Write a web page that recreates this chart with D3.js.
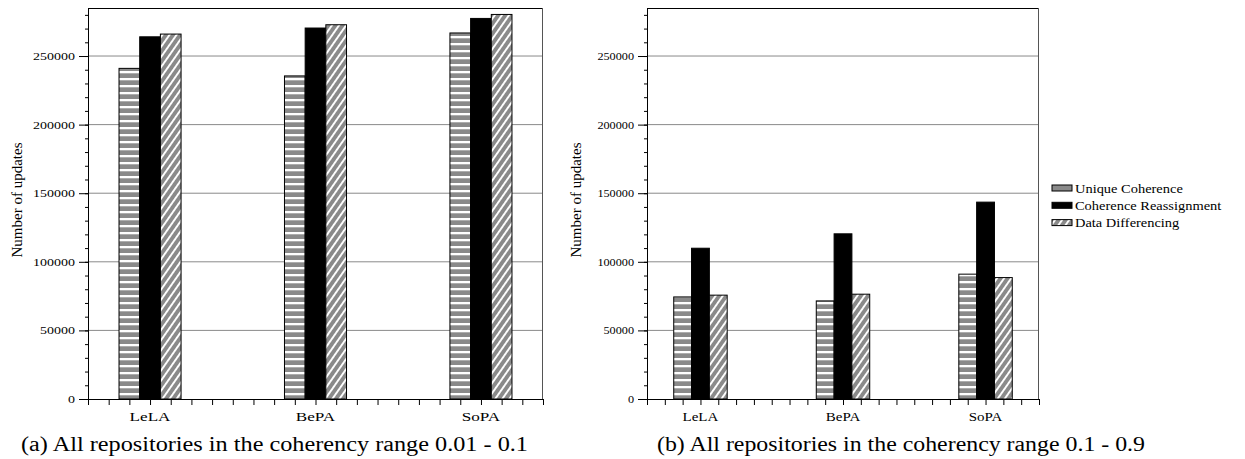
<!DOCTYPE html>
<html>
<head>
<meta charset="utf-8">
<script src="https://cdn.jsdelivr.net/npm/d3@7"></script>
<style>
  body { margin: 0; background: #fff; }
  svg text { font-family: "Liberation Serif", Times, serif !important; fill: #000; }
</style>
</head>
<body>
<div id="chart"></div>
<script>
// data
var categories = ["LeLA", "BePA", "SoPA"];
var seriesNames = ["Unique Coherence", "Coherence Reassignment", "Data Differencing"];
var uniqueA   = [241000, 235500, 266800];
var reassignA = [264000, 270400, 277400];
var diffA     = [266000, 272800, 280300];
var uniqueB   = [74400, 71500, 91000];
var reassignB = [109900, 120400, 143500];
var diffB     = [75700, 76400, 88500];
var yTicks = [0, 50000, 100000, 150000, 200000, 250000];
var yLabel = "Number of updates";
var captionA = "(a) All repositories in the coherency range 0.01 - 0.1";
var captionB = "(b) All repositories in the coherency range 0.1 - 0.9";

var serif = "'Liberation Serif', Times, serif";

var svg = d3.select("#chart").append("svg")
    .attr("width", 1245)
    .attr("height", 459)
    .attr("font-family", serif);

var defs = svg.append("defs");

// horizontal stripes
var hs = defs.append("pattern")
    .attr("id", "hstripe")
    .attr("patternUnits", "userSpaceOnUse")
    .attr("width", 7).attr("height", 7);
hs.append("rect").attr("width", 7).attr("height", 7).attr("fill", "#fff");
hs.append("rect").attr("y", 2.3).attr("width", 7).attr("height", 4.7).attr("fill", "#8a8a8a");

// diagonal stripes
var dg = defs.append("pattern")
    .attr("id", "diag")
    .attr("patternUnits", "userSpaceOnUse")
    .attr("width", 5.8).attr("height", 10)
    .attr("patternTransform", "rotate(35)");
dg.append("rect").attr("width", 5.8).attr("height", 10).attr("fill", "#8a8a8a");
dg.append("rect").attr("width", 1.9).attr("height", 10).attr("fill", "#fff");

var fills = ["url(#hstripe)", "#000", "url(#diag)"];

// stretch text horizontally, the figure was scaled unevenly
function stretch(sel, sx) {
  sel.each(function() {
    var w = this.getComputedTextLength();
    d3.select(this)
      .attr("textLength", w * sx)
      .attr("lengthAdjust", "spacingAndGlyphs");
  });
}

function drawPanel(left, right, sx, values) {
  var top = 8, bottom = 399;
  var w = right - left, h = bottom - top;

  var g = svg.append("g").attr("transform", "translate(" + left + "," + top + ")");

  var x = d3.scaleLinear().domain([0, 22]).range([0, w]);
  var slot = d3.scalePoint().domain(categories).range([3, 19]);
  var y = d3.scaleLinear().domain([0, 285000]).range([h, 0]);

  // grid
  g.selectAll(".grid")
    .data(yTicks.slice(1))
    .enter().append("line")
      .attr("x1", 0).attr("x2", w)
      .attr("y1", d => y(d)).attr("y2", d => y(d))
      .attr("stroke", "#8a8a8a").attr("stroke-width", 1);

  // frame
  g.append("line").attr("x1", 0).attr("x2", w).attr("y1", 0.5).attr("y2", 0.5)
    .attr("stroke", "#000");
  g.append("line").attr("x1", w - 0.5).attr("x2", w - 0.5).attr("y1", 0).attr("y2", h)
    .attr("stroke", "#555");

  // bars
  var rows = [];
  categories.forEach(function(c, i) {
    values.forEach(function(s, j) {
      rows.push({cat: c, series: j, value: s[i]});
    });
  });
  g.selectAll(".bar")
    .data(rows)
    .enter().append("rect")
      .attr("x", d => x(slot(d.cat) - 1.5 + d.series))
      .attr("width", d => x(1) - x(0))
      .attr("y", d => y(d.value))
      .attr("height", d => h - y(d.value))
      .attr("fill", d => fills[d.series])
      .attr("stroke", "#000")
      .attr("stroke-width", 1);

  // y axis: minor ticks then major ticks
  var minor = d3.range(0, 285001, 10000);
  g.append("g")
    .call(d3.axisLeft(y).tickValues(minor).tickSize(3).tickFormat(""))
    .call(a => a.select(".domain").remove());
  var ya = g.append("g")
    .call(d3.axisLeft(y).tickValues(yTicks).tickSize(9).tickPadding(4).tickFormat(d3.format("d")))
    .attr("font-family", serif);
  ya.select(".domain").attr("d", "M0.5,0V" + h);
  ya.selectAll("text").style("font-size", "11px");
  stretch(ya.selectAll("text"), sx);

  // x axis ticks
  var xa = g.append("g")
    .attr("transform", "translate(0," + h + ")")
    .call(d3.axisBottom(x).tickValues(d3.range(0, 23)).tickSize(6).tickFormat(""));
  xa.select(".domain").attr("d", "M0," + 0.5 + "H" + w);

  var labels = g.selectAll(".cat")
    .data(categories)
    .enter().append("text")
      .attr("x", d => x(slot(d)))
      .attr("y", 421 - top)
      .attr("text-anchor", "middle")
      .style("font-size", "13.5px")
      .text(d => d);
  stretch(labels, sx);

  // y title
  svg.append("text")
    .attr("transform", "translate(" + (left - 66) + "," + 200 + ") rotate(-90)")
    .attr("text-anchor", "middle")
    .style("font-size", "15px")
    .text(yLabel);
}

drawPanel(88, 543, 1.27, [uniqueA, reassignA, diffA]);
drawPanel(647, 1039, 1.11, [uniqueB, reassignB, diffB]);

// legend
var legend = svg.append("g").attr("transform", "translate(1052,188)");
var item = legend.selectAll(".item")
  .data(seriesNames)
  .enter().append("g")
    .attr("transform", (d, i) => "translate(0," + i * 17.3 + ")");
item.append("rect")
  .attr("x", 0).attr("y", -3)
  .attr("width", 20).attr("height", 6)
  .attr("fill", (d, i) => i === 0 ? "#8a8a8a" : fills[i])
  .attr("stroke", "#000");
var ltext = item.append("text")
  .attr("x", 23).attr("y", 4.5)
  .style("font-size", "13px")
  .text(d => d);
stretch(ltext, 1.11);

// captions
svg.selectAll(".caption")
  .data([[21, captionA, 507], [657, captionB, 488]])
  .enter().append("text")
    .attr("x", d => d[0])
    .attr("y", 451)
    .style("font-size", "20.5px")
    .attr("textLength", d => d[2])
    .attr("lengthAdjust", "spacingAndGlyphs")
    .text(d => d[1]);
</script>
</body>
</html>
